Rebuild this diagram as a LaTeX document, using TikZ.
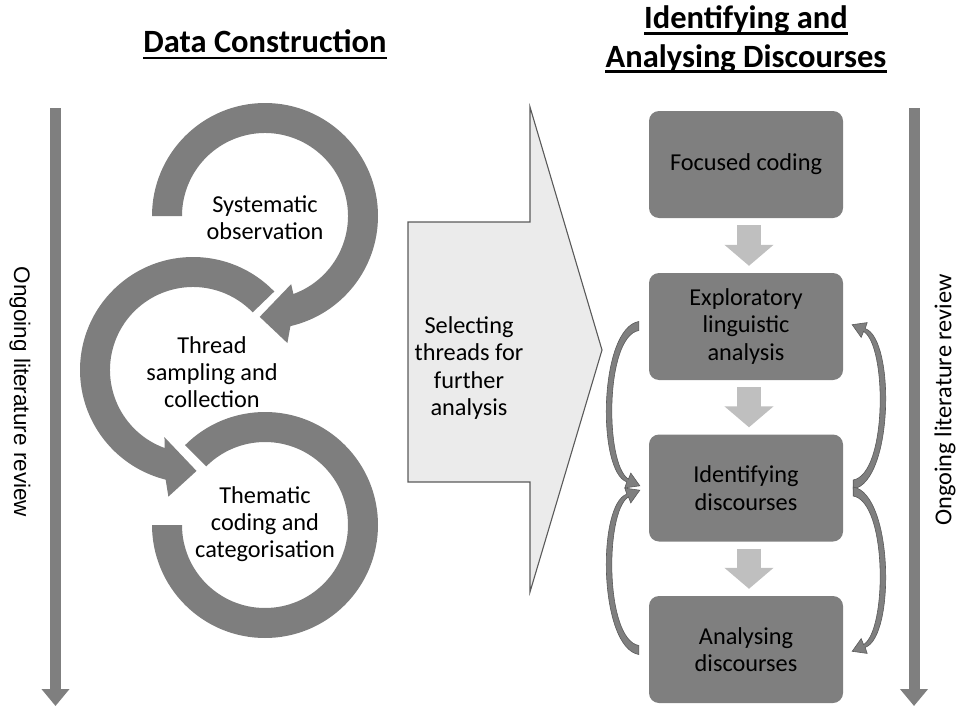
\documentclass[tikz,border=0pt]{standalone}
\usepackage{fontspec}
\setmainfont{Carlito}
\newfontfamily\arialf{Liberation Sans}
\usetikzlibrary{arrows.meta,calc}
\definecolor{boxgray}{HTML}{7F7F7F}
\definecolor{ringgray}{HTML}{7E7E7E}
\definecolor{edgegray}{HTML}{5A5A5A}
\definecolor{lightarrow}{HTML}{BFBFBF}
\definecolor{bigfill}{HTML}{EBEBEB}
\newcommand{\bodyfnt}{\fontsize{24.3}{27.3}\selectfont}
\newcommand{\titlefnt}{\fontsize{32.5}{38}\selectfont\bfseries}
\newcommand{\taperedarrow}{%
  \filldraw[curv] (-10,-5) .. controls (-50,2) and (-52,145) .. (-22,155.4)
    -- (-24,161.4) -- (-9,159.3) -- (-18,146.6) -- (-20.4,152.6)
    .. controls (-44,138) and (-44,10) .. (-10,4) -- cycle;}
\begin{document}
\begin{tikzpicture}[x=1pt,y=-1pt,
  box/.style={fill=boxgray, rounded corners=10pt, minimum width=194pt,
    minimum height=107pt, align=center, font=\bodyfnt, inner sep=0pt},
  txt/.style={align=center, font=\bodyfnt, inner sep=0pt},
  title/.style={font=\titlefnt, inner sep=0pt, anchor=base},
  uline/.style={line width=2.6pt, draw=black},
  ring/.style={fill=ringgray},
  curv/.style={fill=boxgray, draw=edgegray, line width=0.6pt},
  vert/.style={draw=boxgray, line width=11pt, -{Triangle[width=27pt,length=17pt]}},
  downarr/.style={draw=lightarrow, line width=24pt, -{Triangle[width=48pt,length=21pt]}},
  bigarrow/.style={fill=bigfill, draw=edgegray, line width=1.1pt}]
\useasboundingbox (0,0) rectangle (959,709);

% titles
\node[title] (t1) at (265,53) {Data Construction};
\draw[uline] ($(t1.base west)+(0,5)$) -- ($(t1.base east)+(0,5)$);
\node[title] (t2a) at (746,29) {Identifying and};
\draw[uline] ($(t2a.base west)+(0,4.5)$) -- ($(t2a.base east)+(0,4.5)$);
\node[title] (t2b) at (746,67) {Analysing Discourses};
\draw[uline] ($(t2b.base west)+(0,4.5)$) -- ($(t2b.base east)+(0,4.5)$);

% side arrows
\coordinate (ltop) at (55.5,108);
\coordinate (lbot) at (55.5,706);
\draw[vert] (ltop) -- (lbot);
\node[rotate=-90, font={\arialf\fontsize{22.5}{27}\selectfont}, inner sep=0pt] (llab) at (20,392) {Ongoing literature review};
\coordinate (rtop) at (914,108);
\coordinate (rbot) at (914,706);
\draw[vert] (rtop) -- (rbot);
\node[rotate=90, font=\bodyfnt, inner sep=0pt] (rlab) at (945,400) {Ongoing literature review};

% circular arrows
\coordinate (c1) at (265,216);
\coordinate (c2) at (193,370);
\coordinate (c3) at (265,525);
\fill[ring] ($(c1)+(180:113)$) arc[start angle=180, end angle=437, radius=113]
  -- ($(c1)+(440:129)$) -- ($(c1)+(453:101)$) -- ($(c1)+(429:73)$)
  -- ($(c1)+(430:83)$) arc[start angle=430, end angle=180, radius=83] -- cycle;
\fill[ring] ($(c2)+(316:113)$) arc[start angle=316, end angle=104, radius=113]
  -- ($(c2)+(101:129)$) -- ($(c2)+(88:101)$) -- ($(c2)+(113:73)$)
  -- ($(c2)+(110:83)$) arc[start angle=110, end angle=316, radius=83] -- cycle;
\fill[ring] ($(c3)+(225:113)$) arc[start angle=225, end angle=540, radius=113]
  -- ($(c3)+(540:83)$) arc[start angle=540, end angle=225, radius=83] -- cycle;
\node[txt] (sys) at (265,218) {Systematic\\observation};
\node[txt] (thr) at (212,372) {Thread\\sampling and\\collection};
\node[txt] (the) at (265,524) {Thematic\\coding and\\categorisation};

% big arrow
\filldraw[bigarrow] (408,222) -- (530,222) -- (530,107) -- (602,350)
  -- (530,592) -- (530,482) -- (408,482) -- cycle;
\node[txt] (sel) at (469,368) {Selecting\\threads for\\further\\analysis};

% boxes
\node[box] (focus) at (746,164.5) {Focused coding};
\node[box] (explo) at (746,326.5) {Exploratory\\linguistic\\analysis};
\node[box] (ident) at (746,488) {Identifying\\discourses};
\node[box] (anal) at (746,649.5) {Analysing\\discourses};

\draw[downarr] ($(focus.south)+(3,7)$) -- ($(explo.north)+(3,-7)$);
\draw[downarr] ($(explo.south)+(3,7)$) -- ($(ident.north)+(3,-7)$);
\draw[downarr] ($(ident.south)+(3,7)$) -- ($(anal.north)+(3,-7)$);

% curved feedback arrows
\begin{scope}[shift={(explo.west)}]\taperedarrow\end{scope}
\begin{scope}[shift={(anal.west)}, yscale=-1]\taperedarrow\end{scope}
\begin{scope}[shift={($(ident.east)+(0,-4)$)}, xscale=-1, yscale=-1]\taperedarrow\end{scope}
\begin{scope}[shift={($(ident.east)+(0,4)$)}, xscale=-1]\taperedarrow\end{scope}
\end{tikzpicture}
\end{document}
